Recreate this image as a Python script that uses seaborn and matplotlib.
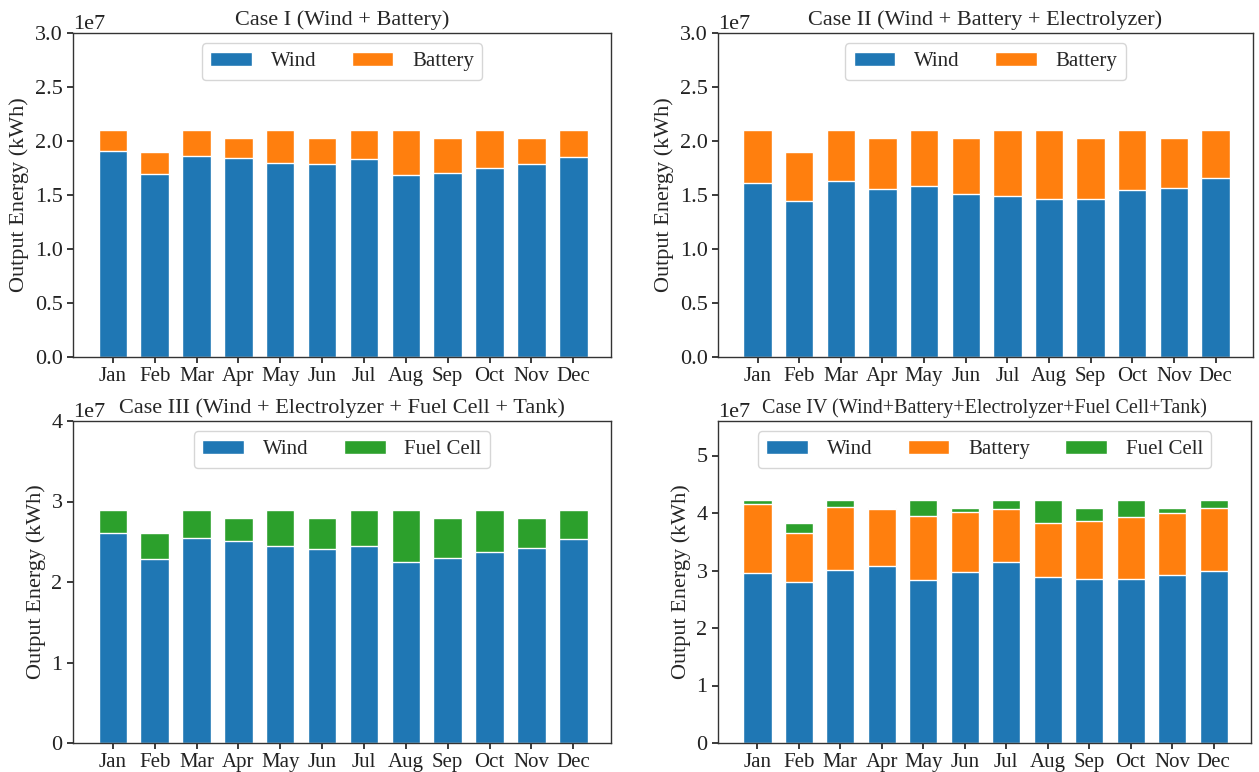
import numpy as np
import matplotlib
matplotlib.use("Agg")
import matplotlib.pyplot as plt
from matplotlib.patches import Patch
import seaborn as sns

# Monthly output energy (units of 1e7 kWh)
months = ["Jan", "Feb", "Mar", "Apr", "May", "Jun", "Jul", "Aug", "Sep", "Oct", "Nov", "Dec"]

case1_wind = [1.908, 1.692, 1.865, 1.840, 1.794, 1.785, 1.831, 1.689, 1.707, 1.754, 1.788, 1.856]
case1_battery = [0.192, 0.208, 0.235, 0.190, 0.306, 0.245, 0.269, 0.411, 0.323, 0.346, 0.242, 0.244]

case2_wind = [1.611, 1.441, 1.633, 1.559, 1.587, 1.509, 1.488, 1.460, 1.460, 1.543, 1.565, 1.661]
case2_battery = [0.489, 0.459, 0.467, 0.471, 0.513, 0.521, 0.612, 0.640, 0.570, 0.557, 0.465, 0.439]

case3_wind = [2.606, 2.280, 2.548, 2.511, 2.441, 2.408, 2.445, 2.247, 2.301, 2.371, 2.421, 2.528]
case3_fuelcell = [0.284, 0.330, 0.342, 0.289, 0.449, 0.392, 0.445, 0.643, 0.499, 0.519, 0.379, 0.362]

case4_wind = [2.950, 2.806, 3.008, 3.072, 2.829, 2.968, 3.147, 2.887, 2.858, 2.858, 2.921, 2.985]
case4_battery = [1.207, 0.849, 1.103, 0.993, 1.126, 1.050, 0.918, 0.941, 1.005, 1.068, 1.080, 1.108]
case4_fuelcell = [0.073, 0.165, 0.119, 0.023, 0.275, 0.072, 0.165, 0.402, 0.227, 0.304, 0.089, 0.137]

SCALE = 1e7

titles = [
    "Case I (Wind + Battery)",
    "Case II (Wind + Battery + Electrolyzer)",
    "Case III (Wind + Electrolyzer + Fuel Cell + Tank)",
    "Case IV (Wind+Battery+Electrolyzer+Fuel Cell+Tank)",
]

C_WIND = "#1f77b4"
C_BATT = "#ff7f0e"
C_FC = "#2ca02c"

sns.set_theme(style="ticks")
plt.rcParams["font.family"] = ["Liberation Serif", "DejaVu Serif"]
plt.rcParams["font.size"] = 15
plt.rcParams["axes.titlesize"] = 16
plt.rcParams["axes.labelsize"] = 16
plt.rcParams["xtick.labelsize"] = 15
plt.rcParams["ytick.labelsize"] = 16
plt.rcParams["legend.fontsize"] = 15
plt.rcParams["axes.edgecolor"] = "#333333"
plt.rcParams["axes.linewidth"] = 1.0
plt.rcParams["xtick.color"] = "#222222"
plt.rcParams["ytick.color"] = "#222222"
plt.rcParams["xtick.major.size"] = 4
plt.rcParams["ytick.major.size"] = 4

fig = plt.figure(figsize=(12.59, 7.72), dpi=100)
W, H = 1259, 772
boxes = [
    (73, 33, 611, 357),
    (718, 33, 1253, 357),
    (73, 421, 611, 743),
    (718, 421, 1251, 743),
]
axes = [fig.add_axes([l / W, 1 - b / H, (r - l) / W, (b - t) / H]) for (l, t, r, b) in boxes]


def stacked(ax, series, colors, labels, ylim, yticks, title, title_size=16):
    """Draw stacked bars by layering cumulative sums, tallest first."""
    cum = np.cumsum(np.array(series, dtype=float), axis=0) * SCALE
    for i in range(len(series) - 1, -1, -1):
        sns.barplot(x=months, y=cum[i], color=colors[i], width=0.68, saturation=1,
                    edgecolor="white", linewidth=1.0, ax=ax)
    ax.set_xlim(-0.95, 11.9)
    ax.set_ylim(*ylim)
    ax.set_yticks(yticks)
    ax.ticklabel_format(axis="y", style="sci", scilimits=(0, 0))
    ax.yaxis.get_offset_text().set_fontsize(16)
    ax.set_xlabel("")
    ax.set_ylabel("Output Energy (kWh)")
    ax.set_title(title, fontsize=title_size)
    for s in ax.spines.values():
        s.set_visible(True)
    handles = [Patch(facecolor=c, label=l) for c, l in zip(colors, labels)]
    ax.legend(handles=handles, loc="upper center", ncol=len(labels),
              handlelength=2.0, handletextpad=0.9, columnspacing=1.7,
              frameon=True, framealpha=0.8, edgecolor="#cccccc", fancybox=True)


stacked(axes[0], [case1_wind, case1_battery], [C_WIND, C_BATT], ["Wind", "Battery"],
        (0, 3.0e7), np.arange(0, 3.01e7, 0.5e7), titles[0])
stacked(axes[1], [case2_wind, case2_battery], [C_WIND, C_BATT], ["Wind", "Battery"],
        (0, 3.0e7), np.arange(0, 3.01e7, 0.5e7), titles[1])
stacked(axes[2], [case3_wind, case3_fuelcell], [C_WIND, C_FC], ["Wind", "Fuel Cell"],
        (0, 4.0e7), np.arange(0, 4.01e7, 1e7), titles[2])
stacked(axes[3], [case4_wind, case4_battery, case4_fuelcell], [C_WIND, C_BATT, C_FC],
        ["Wind", "Battery", "Fuel Cell"],
        (0, 5.6e7), np.arange(0, 5.01e7, 1e7), titles[3], title_size=14.5)

fig.savefig("out.png", dpi=100)
